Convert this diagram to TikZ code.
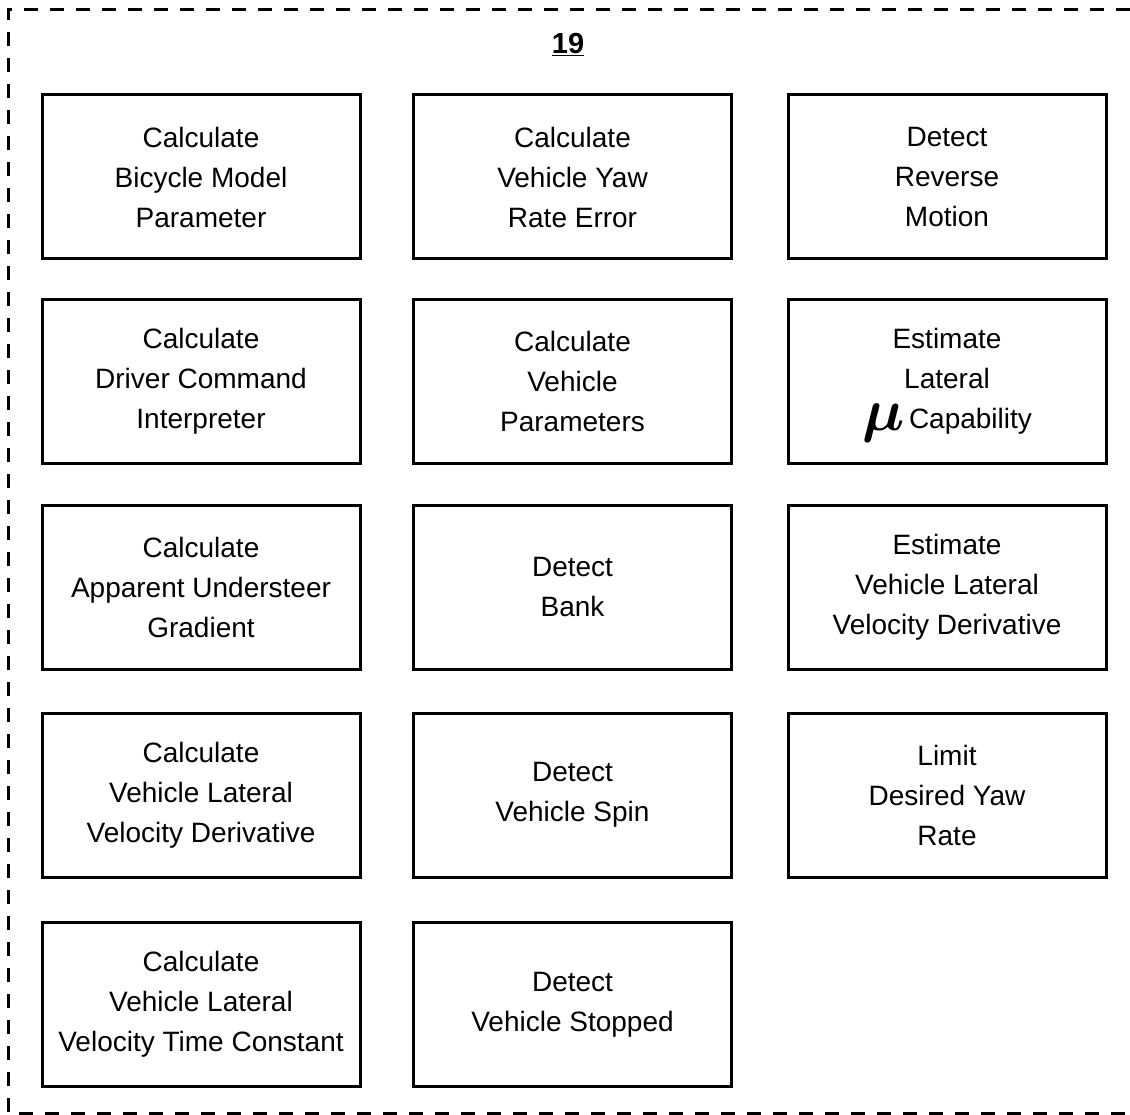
\documentclass[tikz,border=0pt]{standalone}
\usepackage{fontspec}
\setmainfont{Liberation Sans}
\begin{document}
\begin{tikzpicture}[x=1pt,y=1pt,
  blockbox/.style={draw=black,line width=3pt,minimum width=318pt,minimum height=164pt,
    align=center,inner sep=0pt,font=\fontsize{28}{40}\selectfont},
  frameline/.style={draw=black,line width=3pt,dash pattern=on 14pt off 12pt}]
\useasboundingbox (0,0) rectangle (1130,-1115);
\coordinate (tr) at (1130,-10);
\coordinate (tl) at (8,-10);
\coordinate (bl) at (8,-1113);
\coordinate (br) at (1130,-1113);
\draw[frameline] (tr) -- (tl) -- (bl) -- (br);
\node[font=\fontsize{29}{30}\selectfont\bfseries] (lbl) at (568,-45) {\underline{19}};
% row 1
\node[blockbox] (a1) at (201,-177) {Calculate\\Bicycle Model\\Parameter};
\node[blockbox] (a2) at (572.5,-177) {Calculate\\Vehicle Yaw\\Rate Error};
\node[blockbox] (a3) at (947,-177) {Detect\\Reverse\\Motion};
% row 2
\node[blockbox] (b1) at (201,-381.5) {Calculate\\Driver Command\\Interpreter};
\node[blockbox] (b2) at (572.5,-381.5) {Calculate\\Vehicle\\Parameters};
\node[blockbox] (b3) at (947,-381.5) {Estimate\\Lateral\\\smash{\raisebox{-2pt}{\scalebox{2.4}{\boldmath$\mu$}}}\,Capability};
% row 3
\node[blockbox] (c1) at (201,-587.5) {Calculate\\Apparent Understeer\\Gradient};
\node[blockbox] (c2) at (572.5,-587.5) {Detect\\Bank};
\node[blockbox] (c3) at (947,-587.5) {Estimate\\Vehicle Lateral\\Velocity Derivative};
% row 4
\node[blockbox] (d1) at (201,-795) {Calculate\\Vehicle Lateral\\Velocity Derivative};
\node[blockbox] (d2) at (572.5,-795) {Detect\\Vehicle Spin};
\node[blockbox] (d3) at (947,-795) {Limit\\Desired Yaw\\Rate};
% row 5
\node[blockbox] (e1) at (201,-1004.5) {Calculate\\Vehicle Lateral\\Velocity Time Constant};
\node[blockbox] (e2) at (572.5,-1004.5) {Detect\\Vehicle Stopped};
\end{tikzpicture}
\end{document}
